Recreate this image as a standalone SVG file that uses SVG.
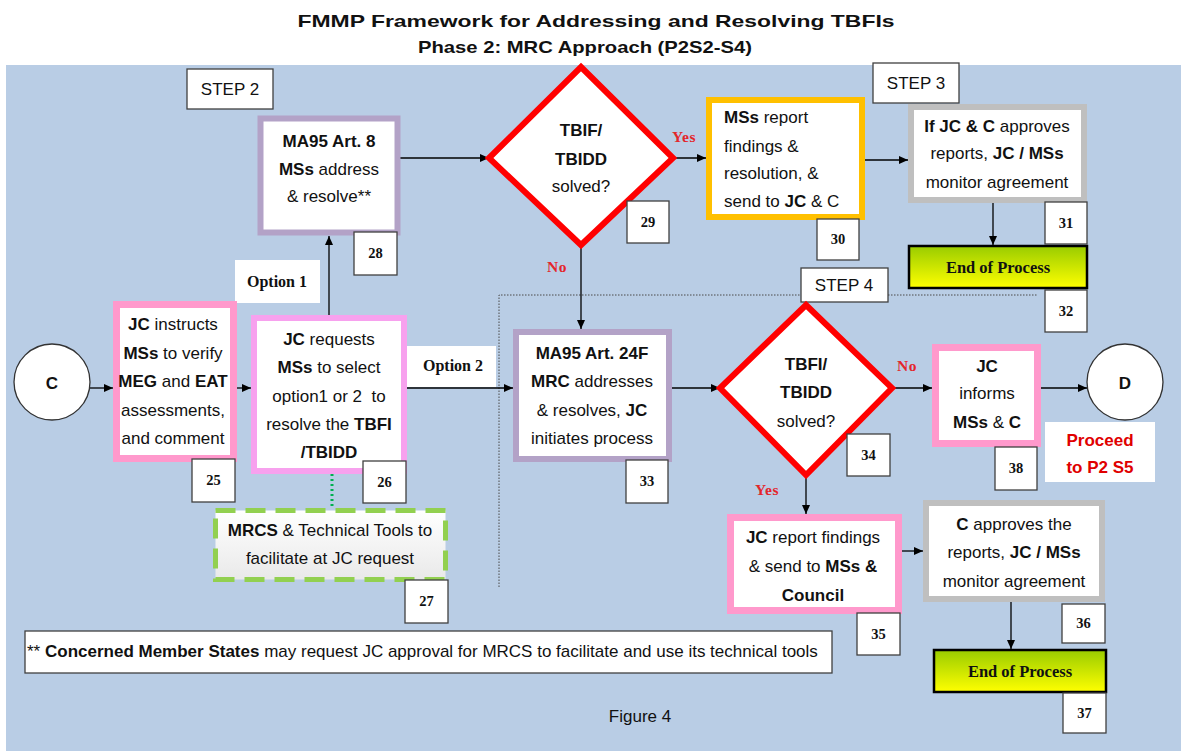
<svg xmlns="http://www.w3.org/2000/svg" width="1181" height="751" viewBox="0 0 1181 751">
  <defs>
    <marker id="arrow" markerUnits="userSpaceOnUse" markerWidth="9" markerHeight="8" refX="9" refY="4" orient="auto">
      <path d="M0,0 L9,4 L0,8 z" fill="#000"/>
    </marker>
    <linearGradient id="endGrad" x1="0" y1="0" x2="0" y2="1">
      <stop offset="0" stop-color="#99CC00"/>
      <stop offset="1" stop-color="#FFFF00"/>
    </linearGradient>
    <linearGradient id="toolGrad" x1="0" y1="0" x2="0" y2="1">
      <stop offset="0" stop-color="#FFFFFF"/>
      <stop offset="1" stop-color="#E9E9E9"/>
    </linearGradient>
  </defs>
  <style>
    .t { font-family: "Liberation Sans", Arial, sans-serif; font-size: 17px; fill: #111; }
    .b { font-weight: bold; }
    .c { text-anchor: middle; }
    .serif { font-family: "Liberation Serif", "Times New Roman", serif; font-weight: bold; fill: #111; }
    .num { font-family: "Liberation Serif", "Times New Roman", serif; font-weight: bold; font-size: 14.5px; text-anchor: middle; fill: #111; }
    .numbox { fill: #fff; stroke: #404040; stroke-width: 1.3; }
    .label { fill: #fff; stroke: #404040; stroke-width: 1.3; }
    .tag { fill: #fff; stroke: none; }
    .red { fill: #E3262B; font-family: "Liberation Serif", "Times New Roman", serif; font-weight: bold; font-size: 15.5px; letter-spacing: 0.6px; }
    .pink { fill: #fff; stroke: #FF99CC; stroke-width: 7; }
    .violet { fill: #fff; stroke: #F7A1EE; stroke-width: 6; }
    .purple { fill: #fff; stroke: #B3A2C7; stroke-width: 6; }
    .gray { fill: #fff; stroke: #BFBFBF; stroke-width: 6; }
    .orange { fill: #fff; stroke: #FFC000; stroke-width: 6; }
    .diamond { fill: #fff; stroke: #FF0000; stroke-width: 6; stroke-linejoin: miter; }
    .end { fill: url(#endGrad); stroke: #000; stroke-width: 2.5; }
    .circle { fill: #fff; stroke: #333; stroke-width: 1.3; }
    .conn { stroke: #000; stroke-width: 1.3; fill: none; marker-end: url(#arrow); }
  </style>

  <!-- page -->
  <rect x="0" y="0" width="1181" height="751" fill="#fff"/>
  <rect x="6" y="65" width="1175" height="686" fill="#B9CDE5"/>

  <!-- headings -->
  <text class="t b c" x="596" y="27" font-size="21" textLength="597" lengthAdjust="spacingAndGlyphs">FMMP Framework for Addressing and Resolving TBFIs</text>
  <text class="t b c" x="585" y="53" font-size="18" textLength="334" lengthAdjust="spacingAndGlyphs">Phase 2: MRC Approach (P2S2-S4)</text>

  <!-- step region boundary -->
  <g id="step4-boundary">
    <path d="M499,587 V295 H801 M888,295 H1037" fill="none" stroke="#4a4a4a" stroke-width="1" stroke-dasharray="1.5,1.5"/>
  </g>

  <!-- connectors -->
  <g id="connectors">
    <path class="conn" d="M90,388 H113"/>
    <path class="conn" d="M227,388 H251"/>
    <path class="conn" d="M329,318 V236"/>
    <path class="conn" d="M400,158 H489"/>
    <path class="conn" d="M673,158 H706"/>
    <path class="conn" d="M865,160 H908"/>
    <path class="conn" d="M993,203 V245"/>
    <path class="conn" d="M581,245 V329"/>
    <path class="conn" d="M407,388 H513"/>
    <path class="conn" d="M672,388 H720"/>
    <path class="conn" d="M892,388 H932"/>
    <path class="conn" d="M1041,388 H1087"/>
    <path class="conn" d="M806,475 V514"/>
    <path class="conn" d="M902,551 H923"/>
    <path class="conn" d="M1011,602 V649"/>
    <path d="M332,474 V508" stroke="#00B050" stroke-width="3" stroke-dasharray="2,3" fill="none"/>
  </g>

  <!-- step labels -->
  <g id="step2"><rect class="label" x="187" y="69" width="86" height="40"/><text class="t c" x="230" y="95" font-size="16.5">STEP 2</text></g>
  <g id="step3"><rect class="label" x="873" y="63" width="86" height="40"/><text class="t c" x="916" y="89" font-size="16.5">STEP 3</text></g>
  <g id="step4"><rect class="label" x="801" y="268" width="87" height="34"/><text class="t c" x="844" y="291" font-size="16.5">STEP 4</text></g>

  <!-- option / branch labels -->
  <g id="option1"><rect class="tag" x="235" y="260" width="85" height="43"/><text class="serif c" x="277" y="287" font-size="16">Option 1</text></g>
  <g id="option2"><rect class="tag" x="407" y="346" width="89" height="41"/><text class="serif c" x="453" y="371" font-size="16">Option 2</text></g>
  <text class="red" x="672" y="142">Yes</text>
  <text class="red" x="547" y="272">No</text>
  <text class="red" x="897" y="371">No</text>
  <text class="red" x="755" y="495">Yes</text>

  <!-- start / exit connectors -->
  <g id="node-C">
    <circle class="circle" cx="52" cy="382" r="38"/>
    <text class="t b c" x="52" y="389" font-size="21">C</text>
  </g>
  <g id="node-D">
    <circle class="circle" cx="1125" cy="382" r="38"/>
    <text class="t b c" x="1125" y="389" font-size="21">D</text>
  </g>
  <g id="proceed">
    <rect class="tag" x="1045" y="422" width="110" height="60"/>
    <text class="t b c" x="1100" y="446" font-size="16" style="fill:#E00000">Proceed</text>
    <text class="t b c" x="1100" y="473" font-size="16" style="fill:#E00000">to P2 S5</text>
  </g>

  <!-- 25 -->
  <g id="node-25">
    <rect class="pink" x="116.5" y="304.5" width="117" height="154"/>
    <text class="t c" x="173" y="330"><tspan class="b">JC</tspan> instructs</text>
    <text class="t c" x="173" y="359"><tspan class="b">MSs</tspan> to verify</text>
    <text class="t c" x="173" y="387"><tspan class="b">MEG</tspan> and <tspan class="b">EAT</tspan></text>
    <text class="t c" x="173" y="416">assessments,</text>
    <text class="t c" x="173" y="444">and comment</text>
  </g>

  <!-- 26 -->
  <g id="node-26">
    <rect class="violet" x="254" y="318" width="150" height="153"/>
    <text class="t c" x="329" y="345"><tspan class="b">JC</tspan> requests</text>
    <text class="t c" x="329" y="373"><tspan class="b">MSs</tspan> to select</text>
    <text class="t c" x="329" y="402" xml:space="preserve">option1 or 2  to</text>
    <text class="t c" x="329" y="430">resolve the <tspan class="b">TBFI</tspan></text>
    <text class="t b c" x="329" y="458">/TBIDD</text>
  </g>

  <!-- 27 -->
  <g id="node-27">
    <rect x="215.5" y="510.5" width="230" height="69" fill="url(#toolGrad)" stroke="#92D050" stroke-width="5" stroke-dasharray="20,10"/>
    <text class="t c" x="330" y="536"><tspan class="b">MRCS</tspan> &amp; Technical Tools to</text>
    <text class="t c" x="330" y="564">facilitate at JC request</text>
  </g>

  <!-- 28 -->
  <g id="node-28">
    <rect class="purple" x="260.5" y="118.5" width="137" height="114" stroke-width="5"/>
    <text class="t b c" x="329" y="147">MA95 Art. 8</text>
    <text class="t c" x="329" y="175"><tspan class="b">MSs</tspan> address</text>
    <text class="t c" x="329" y="202">&amp; resolve**</text>
  </g>

  <!-- 29 -->
  <g id="node-29">
    <polygon class="diamond" points="581,67 673,158 581,245 489,158"/>
    <text class="t b c" x="581" y="136">TBIF/</text>
    <text class="t b c" x="581" y="165">TBIDD</text>
    <text class="t c" x="581" y="192">solved?</text>
  </g>

  <!-- 30 -->
  <g id="node-30">
    <rect class="orange" x="709" y="100" width="153" height="117"/>
    <text class="t" x="724" y="123"><tspan class="b">MSs</tspan> report</text>
    <text class="t" x="724" y="152">findings &amp;</text>
    <text class="t" x="724" y="179">resolution, &amp;</text>
    <text class="t" x="724" y="207">send to <tspan class="b">JC</tspan> &amp; C</text>
  </g>

  <!-- 31 -->
  <g id="node-31">
    <rect class="gray" x="911" y="107" width="173" height="93"/>
    <text class="t c" x="997" y="132"><tspan class="b">If JC &amp; C</tspan> approves</text>
    <text class="t c" x="997" y="159">reports, <tspan class="b">JC / MSs</tspan></text>
    <text class="t c" x="997" y="188">monitor agreement</text>
  </g>

  <!-- 32 -->
  <g id="node-32">
    <rect class="end" x="909" y="246" width="178" height="42"/>
    <text class="serif c" x="998" y="273" font-size="16.5">End of Process</text>
  </g>

  <!-- 33 -->
  <g id="node-33">
    <rect class="purple" x="516" y="332" width="153" height="127"/>
    <text class="t b c" x="592" y="359">MA95 Art. 24F</text>
    <text class="t c" x="592" y="387"><tspan class="b">MRC</tspan> addresses</text>
    <text class="t c" x="592" y="416">&amp; resolves, <tspan class="b">JC</tspan></text>
    <text class="t c" x="592" y="444">initiates process</text>
  </g>

  <!-- 34 -->
  <g id="node-34">
    <polygon class="diamond" points="806,305 892,388 806,475 720,388"/>
    <text class="t b c" x="806" y="370">TBFI/</text>
    <text class="t b c" x="806" y="398">TBIDD</text>
    <text class="t c" x="806" y="427">solved?</text>
  </g>

  <!-- 35 -->
  <g id="node-35">
    <rect class="pink" x="730.5" y="517.5" width="168" height="93"/>
    <text class="t c" x="813" y="543"><tspan class="b">JC</tspan> report findings</text>
    <text class="t c" x="813" y="572">&amp; send to <tspan class="b">MSs &amp;</tspan></text>
    <text class="t b c" x="813" y="601">Council</text>
  </g>

  <!-- 36 -->
  <g id="node-36">
    <rect class="gray" x="926" y="503" width="176" height="96"/>
    <text class="t c" x="1014" y="530"><tspan class="b">C</tspan> approves the</text>
    <text class="t c" x="1014" y="558">reports, <tspan class="b">JC / MSs</tspan></text>
    <text class="t c" x="1014" y="587">monitor agreement</text>
  </g>

  <!-- 37 -->
  <g id="node-37">
    <rect class="end" x="934" y="650" width="172" height="42"/>
    <text class="serif c" x="1020" y="677" font-size="16.5">End of Process</text>
  </g>

  <!-- 38 -->
  <g id="node-38">
    <rect class="pink" x="935.5" y="347.5" width="102" height="96"/>
    <text class="t b c" x="987" y="372">JC</text>
    <text class="t c" x="987" y="399">informs</text>
    <text class="t c" x="987" y="428"><tspan class="b">MSs</tspan> &amp; <tspan class="b">C</tspan></text>
  </g>

  <!-- step numbers -->
  <g id="numbers">
    <rect class="numbox" x="354" y="232" width="43" height="43"/><text class="num" x="375.5" y="258">28</text>
    <rect class="numbox" x="627" y="201" width="42" height="42"/><text class="num" x="648" y="227">29</text>
    <rect class="numbox" x="817" y="219" width="42" height="41"/><text class="num" x="838" y="244">30</text>
    <rect class="numbox" x="1045" y="202" width="42" height="42"/><text class="num" x="1066" y="228">31</text>
    <rect class="numbox" x="1045" y="290" width="42" height="42"/><text class="num" x="1066" y="316">32</text>
    <rect class="numbox" x="192" y="459" width="43" height="43"/><text class="num" x="213.5" y="485">25</text>
    <rect class="numbox" x="363" y="461" width="43" height="42"/><text class="num" x="384.5" y="487">26</text>
    <rect class="numbox" x="405" y="580" width="43" height="43"/><text class="num" x="426.5" y="606">27</text>
    <rect class="numbox" x="626" y="460" width="42" height="43"/><text class="num" x="647" y="486">33</text>
    <rect class="numbox" x="847" y="434" width="43" height="42"/><text class="num" x="868.5" y="460">34</text>
    <rect class="numbox" x="995" y="447" width="42" height="43"/><text class="num" x="1016" y="473">38</text>
    <rect class="numbox" x="857" y="613" width="43" height="42"/><text class="num" x="878.5" y="639">35</text>
    <rect class="numbox" x="1062" y="604" width="43" height="39"/><text class="num" x="1083.5" y="628">36</text>
    <rect class="numbox" x="1063" y="693" width="43" height="40"/><text class="num" x="1084.5" y="718">37</text>
  </g>

  <!-- footnote -->
  <g id="footnote">
    <rect class="label" x="25" y="631" width="807" height="42"/>
    <text class="t" x="27" y="657" font-size="16">** <tspan class="b">Concerned Member States</tspan> may request JC approval for MRCS to facilitate and use its technical tools</text>
  </g>

  <text class="t c" x="640" y="722" font-size="15">Figure 4</text>
</svg>
